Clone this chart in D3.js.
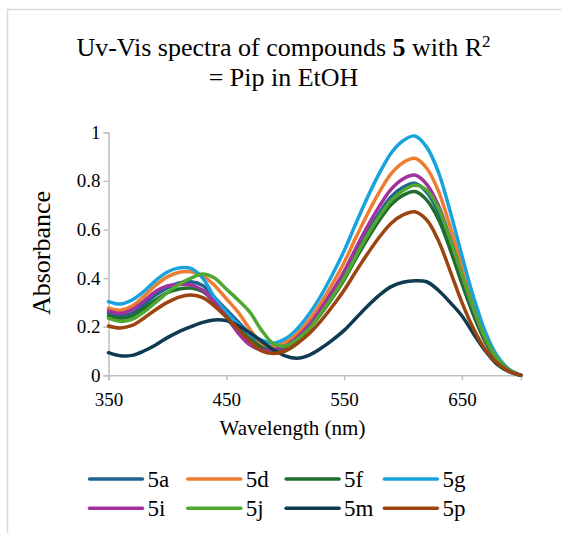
<!DOCTYPE html>
<html>
<head>
<meta charset="utf-8">
<script src="https://cdn.jsdelivr.net/npm/d3@7"></script>
<style>
  html, body { margin: 0; padding: 0; background: #fff; }
  svg text { font-family: "Liberation Serif", "Times New Roman", serif; }
</style>
</head>
<body>
<svg width="561" height="533"></svg>
<script>
// wavelengths (nm) and absorbance
var wavelengths = [350,360,370,380,390,400,410,420,430,440,450,460,470,480,490,500,510,520,530,540,550,560,570,580,590,600,610,620,630,640,650,660,670,680,690,700];

var s5a = [0.255,0.245,0.255,0.29,0.33,0.36,0.38,0.385,0.37,0.32,0.27,0.22,0.17,0.13,0.11,0.12,0.15,0.2,0.261,0.332,0.411,0.502,0.589,0.668,0.735,0.774,0.79,0.754,0.672,0.541,0.395,0.257,0.142,0.063,0.02,0];
var s5d = [0.276,0.268,0.285,0.325,0.37,0.405,0.424,0.426,0.41,0.37,0.315,0.26,0.19,0.13,0.118,0.135,0.17,0.225,0.295,0.375,0.464,0.567,0.665,0.755,0.83,0.875,0.893,0.853,0.759,0.612,0.447,0.29,0.161,0.071,0.022,0];
var s5f = [0.244,0.235,0.245,0.275,0.31,0.34,0.355,0.359,0.345,0.30,0.25,0.2,0.15,0.115,0.10,0.115,0.145,0.19,0.25,0.318,0.393,0.48,0.563,0.639,0.703,0.741,0.756,0.722,0.643,0.518,0.378,0.246,0.136,0.06,0.019,0];
var s5g = [0.303,0.293,0.31,0.345,0.39,0.425,0.442,0.44,0.40,0.32,0.26,0.21,0.17,0.145,0.132,0.15,0.19,0.25,0.325,0.414,0.512,0.625,0.734,0.832,0.915,0.965,0.985,0.94,0.837,0.675,0.493,0.32,0.177,0.079,0.025,0];
var s5i = [0.265,0.255,0.27,0.305,0.345,0.368,0.374,0.372,0.35,0.30,0.24,0.175,0.125,0.104,0.105,0.12,0.155,0.205,0.272,0.346,0.428,0.523,0.614,0.696,0.766,0.808,0.824,0.787,0.70,0.564,0.412,0.268,0.148,0.066,0.021,0];
var s5j = [0.235,0.222,0.23,0.26,0.30,0.34,0.375,0.40,0.417,0.40,0.355,0.31,0.26,0.185,0.13,0.12,0.148,0.19,0.252,0.322,0.40,0.49,0.578,0.655,0.72,0.76,0.782,0.762,0.69,0.56,0.415,0.273,0.152,0.068,0.022,0];
var s5m = [0.093,0.08,0.082,0.10,0.125,0.155,0.18,0.20,0.218,0.228,0.225,0.205,0.175,0.14,0.105,0.08,0.07,0.082,0.11,0.145,0.185,0.235,0.285,0.33,0.365,0.383,0.389,0.385,0.35,0.30,0.245,0.17,0.10,0.045,0.015,0];
var s5p = [0.203,0.195,0.205,0.235,0.27,0.30,0.322,0.33,0.32,0.285,0.24,0.19,0.14,0.10,0.09,0.10,0.13,0.17,0.222,0.283,0.35,0.427,0.501,0.569,0.626,0.66,0.673,0.64,0.555,0.43,0.30,0.19,0.105,0.05,0.017,0];

var seriesNames = ["5a","5d","5f","5g","5i","5j","5m","5p"];
var seriesValues = [s5a, s5d, s5f, s5g, s5i, s5j, s5m, s5p];
var seriesColors = ["#1f6391","#ed7d31","#1f6e2e","#19a3dc","#a3319d","#4fa82f","#0e3a52","#9c440f"];

var xTicks = [350, 450, 550, 650];
var yTicks = [0, 0.2, 0.4, 0.6, 0.8, 1];

var serif = '"Liberation Serif", "Times New Roman", serif';
var svg = d3.select("svg");

// outer chart border
svg.append("rect")
    .attr("x", 7.5).attr("y", 9.5)
    .attr("width", 600).attr("height", 600)
    .attr("fill", "none")
    .attr("stroke", "#d9d9d9")
    .attr("stroke-width", 1.5);

var x = d3.scaleLinear().domain([350, 700]).range([108.5, 520.8]);
var y = d3.scaleLinear().domain([0, 1]).range([375.3, 132.3]);

// title
var title = svg.append("text")
    .attr("x", 283.5).attr("y", 56)
    .attr("text-anchor", "middle")
    .attr("font-size", 26)
    .attr("fill", "#000");
title.append("tspan").text("Uv-Vis spectra of compounds ");
title.append("tspan").attr("font-weight", "bold").text("5");
title.append("tspan").text(" with R");
title.append("tspan").attr("font-size", 17).attr("dy", -9).text("2");

svg.append("text")
    .attr("x", 283.5).attr("y", 86)
    .attr("text-anchor", "middle")
    .attr("font-size", 26)
    .text("= Pip in EtOH");

// axes
var xAxis = svg.append("g")
    .attr("transform", "translate(0," + y(0) + ")")
    .call(d3.axisBottom(x).tickValues(xTicks).tickSize(5).tickPadding(12).tickFormat(d3.format("d")));

var yAxis = svg.append("g")
    .attr("transform", "translate(" + x(350) + ",0)")
    .call(d3.axisLeft(y).tickValues(yTicks).tickSize(5).tickPadding(3)
        .tickFormat(function(d) { return d === 0 ? "0" : d === 1 ? "1" : d3.format(".1f")(d); }));

[xAxis, yAxis].forEach(function(g) {
    g.attr("font-family", null);
    g.select(".domain").attr("stroke", "#bfbfbf").attr("stroke-width", 1.5);
    g.selectAll(".tick line").attr("stroke", "#bfbfbf").attr("stroke-width", 1.5);
    g.selectAll(".tick text")
        .attr("fill", "#000")
        .attr("font-size", 19)
        .style("font-family", serif);
});

svg.append("text")
    .attr("x", 292.5).attr("y", 435)
    .attr("text-anchor", "middle")
    .attr("font-size", 21)
    .text("Wavelength (nm)");

svg.append("text")
    .attr("transform", "translate(50,253) rotate(-90)")
    .attr("text-anchor", "middle")
    .attr("font-size", 26)
    .text("Absorbance");

// spectra
var line = d3.line()
    .x(function(d, i) { return x(wavelengths[i]); })
    .y(function(d) { return y(d); })
    .curve(d3.curveCatmullRom.alpha(0.5));

svg.append("g")
    .attr("class", "series")
    .selectAll("path")
    .data(seriesValues)
    .enter().append("path")
        .attr("d", line)
        .attr("fill", "none")
        .attr("stroke", function(d, i) { return seriesColors[i]; })
        .attr("stroke-width", 3.5)
        .attr("stroke-linecap", "round")
        .attr("stroke-linejoin", "round");

// legend
var legend = svg.append("g").attr("class", "legend");
var item = legend.selectAll("g")
    .data(seriesNames)
    .enter().append("g")
        .attr("transform", function(d, i) {
            return "translate(" + (89.5 + (i % 4) * 98.3) + "," + (479 + Math.floor(i / 4) * 29.3) + ")";
        });

item.append("line")
    .attr("x1", 0).attr("x2", 53)
    .attr("stroke", function(d, i) { return seriesColors[i]; })
    .attr("stroke-width", 3.5)
    .attr("stroke-linecap", "round");

item.append("text")
    .attr("x", 58).attr("y", 8)
    .attr("font-size", 23)
    .text(function(d) { return d; });
</script>
</body>
</html>
